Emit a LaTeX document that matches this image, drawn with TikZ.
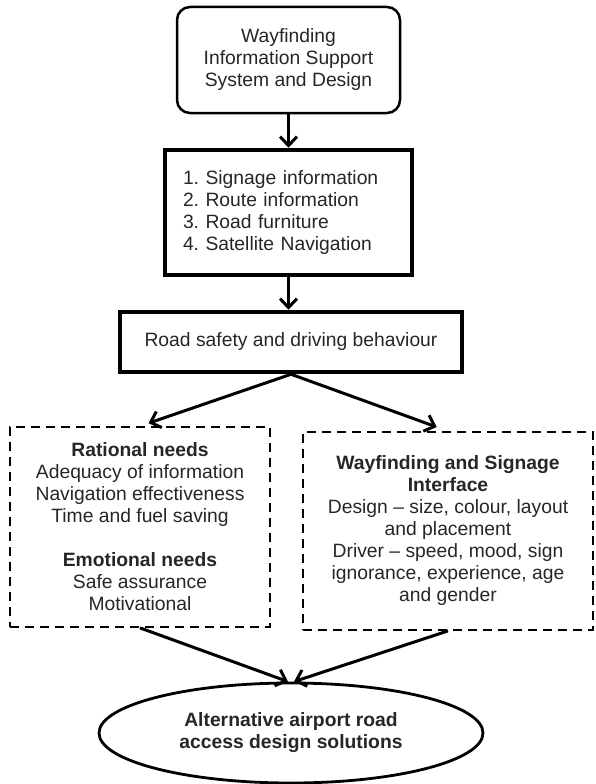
\documentclass[tikz,border=0pt]{standalone}
\usepackage{fontspec}
\setmainfont{Liberation Sans}
\usetikzlibrary{arrows.meta,shapes.geometric}
\frenchspacing
\begin{document}
\begin{tikzpicture}[x=1pt,y=-1pt,
  every node/.style={font=\fontsize{19.3}{22}\selectfont, text=black!85, align=center, inner sep=0pt},
  solidbox/.style={draw, line width=4.5pt, rectangle},
  roundbox/.style={draw, line width=2.5pt, rounded corners=13pt, rectangle},
  dashbox/.style={draw, line width=1.8pt, dash pattern=on 9pt off 6pt, rectangle},
  conn/.style={line width=3pt, -{Straight Barb[length=9pt,width=17pt,line width=3pt]}}
]
\useasboundingbox (0,0) rectangle (596,784);

\node[roundbox, minimum width=223pt, minimum height=106pt] (top) at (288.5,60)
  {Wayfinding\\Information Support\\System and Design};

\node[solidbox, minimum height=125pt, text width=211pt, inner xsep=18pt, align=left] (list) at (288.5,212.5)
  {1. Signage information\\2. Route information\\3. Road furniture\\4. Satellite Navigation};

\node[solidbox, minimum width=342pt, minimum height=60pt] (road) at (291,342)
  {Road safety and driving behaviour};

\node[dashbox, minimum width=260pt, minimum height=200pt] (left) at (140,527)
  {\textbf{Rational needs}\\Adequacy of information\\Navigation effectiveness\\Time and fuel saving\\[22pt]\textbf{Emotional needs}\\Safe assurance\\Motivational};

\node[dashbox, minimum width=290pt, minimum height=198pt] (right) at (448,531)
  {\textbf{Wayfinding and Signage}\\\textbf{Interface}\\Design -- size, colour, layout\\and placement\\Driver -- speed, mood, sign\\ignorance, experience, age\\and gender};

\node[ellipse, draw, line width=2.8pt, minimum width=384pt, minimum height=100pt] (ell) at (291,733)
  {\textbf{Alternative airport road}\\\textbf{access design solutions}};

\draw[conn] (top.south) -- (list.north);
\draw[conn] (list.south) -- (list.south |- road.north);
\draw[conn, shorten >=9pt] (road.south) -- (left.north);
\draw[conn, shorten >=12pt] (road.south) -- (right.north);
\draw[conn] (left.south) -- ([xshift=-3pt]ell.north);
\draw[conn] (right.south) -- ([xshift=3pt]ell.north);
\end{tikzpicture}
\end{document}
